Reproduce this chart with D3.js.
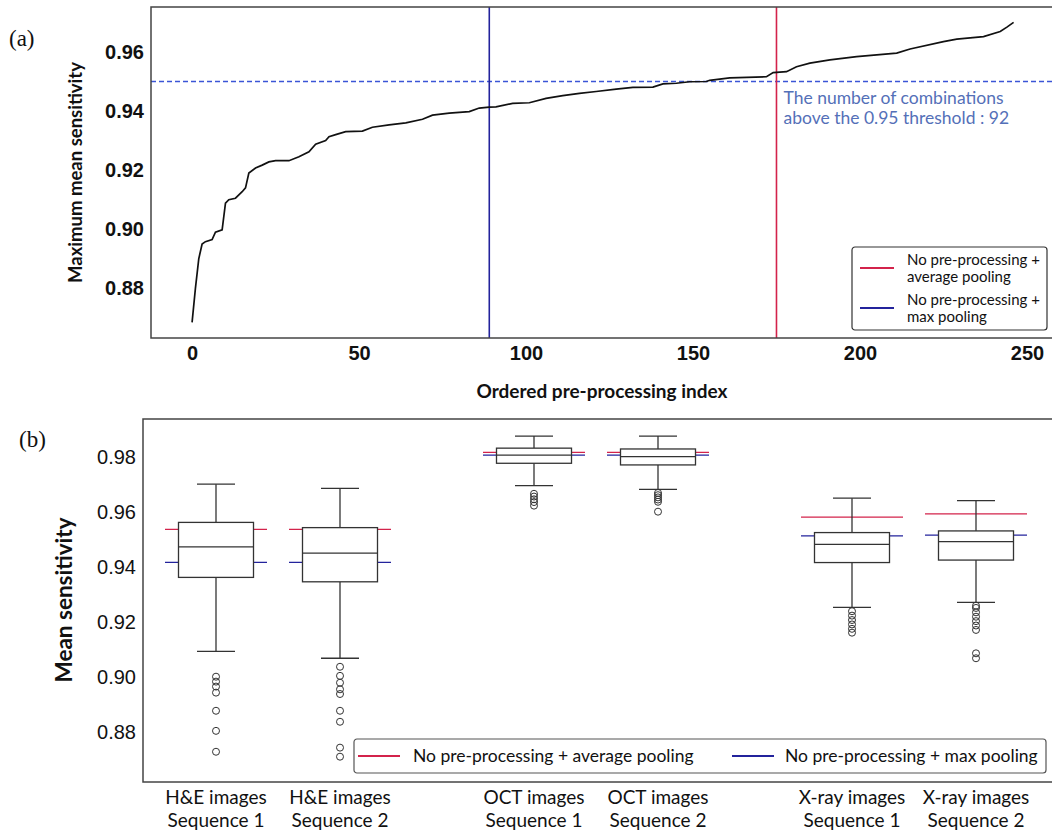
<!DOCTYPE html>
<html>
<head>
<meta charset="utf-8">
<script src="https://cdn.jsdelivr.net/npm/d3@7"></script>
<style>
  body { margin: 0; background: #fff; }
  svg { display: block; font-family: Lato, "Open Sans", sans-serif; }
</style>
</head>
<body>
<svg id="chart" width="1052" height="835"></svg>
<script>

// ---- Panel (a): ordered pre-processing combinations ----
const curveIndex = [0, 1, 2, 3, 4, 6, 7, 9, 10, 11, 13, 15, 16, 17, 19, 21, 23, 25, 29, 32,
    35, 37, 40, 41, 43, 46, 51, 54, 59, 64, 69, 72, 77, 83, 86, 89, 91, 96, 101, 106,
    111, 116, 121, 127, 132, 138, 141, 145, 149, 154, 155, 161, 172, 174, 178, 181, 185, 191, 199, 211,
    215, 225, 229, 237, 242, 244, 246];
const curveValue = [0.8685, 0.8800, 0.8900, 0.8950, 0.8958, 0.8965, 0.8990, 0.8998, 0.9088, 0.9100,
    0.9105, 0.9127, 0.9140, 0.9190, 0.9207, 0.9217, 0.9228, 0.9232, 0.9232, 0.9245,
    0.9262, 0.9288, 0.9300, 0.9313, 0.9320, 0.9330, 0.9332, 0.9345, 0.9353, 0.9360,
    0.9372, 0.9386, 0.9393, 0.9398, 0.9410, 0.9413, 0.9414, 0.9426, 0.9428, 0.9443,
    0.9452, 0.9460, 0.9466, 0.9474, 0.9480, 0.9481, 0.9492, 0.9494, 0.9499, 0.9500,
    0.9504, 0.9512, 0.9516, 0.9530, 0.9533, 0.9550, 0.9562, 0.9573, 0.9584, 0.9596,
    0.9610, 0.9635, 0.9643, 0.9652, 0.9669, 0.9684, 0.9700];
const avgPoolIndex = 175;
const maxPoolIndex = 89;
const threshold = 0.95;
const aboveThreshold = 92;
const topXTicks = [0, 50, 100, 150, 200, 250];
const topYTicks = [0.88, 0.90, 0.92, 0.94, 0.96];

// ---- Panel (b): mean sensitivity per modality / sequence ----
const groups = ["H&E images", "OCT images", "X-ray images"];
const sequences = ["Sequence 1", "Sequence 2"];
const whiskerHigh = [0.9700, 0.9685, 0.9875, 0.9875, 0.9649, 0.9640];
const q3 =          [0.9561, 0.9542, 0.9831, 0.9828, 0.9524, 0.9530];
const median =      [0.9472, 0.9449, 0.9806, 0.9800, 0.9481, 0.9491];
const q1 =          [0.9361, 0.9345, 0.9776, 0.9770, 0.9415, 0.9424];
const whiskerLow =  [0.9092, 0.9067, 0.9695, 0.9681, 0.9252, 0.9270];
const outliers = [
    [0.9000, 0.8982, 0.8964, 0.8942, 0.8876, 0.8803, 0.8727],
    [0.9036, 0.9003, 0.8978, 0.8954, 0.8937, 0.8876, 0.8836, 0.8742, 0.8709],
    [0.9665, 0.9655, 0.9645, 0.9635, 0.9622],
    [0.9668, 0.9660, 0.9652, 0.9644, 0.9636, 0.9600],
    [0.9238, 0.9222, 0.9206, 0.9190, 0.9174, 0.9160],
    [0.9258, 0.9250, 0.9234, 0.9218, 0.9202, 0.9186, 0.9170, 0.9085, 0.9067]
];
const avgPoolValue = [0.9536, 0.9536, 0.9816, 0.9816, 0.9580, 0.9592];
const maxPoolValue = [0.9416, 0.9416, 0.9806, 0.9806, 0.9512, 0.9515];
const bottomYTicks = [0.88, 0.90, 0.92, 0.94, 0.96, 0.98];

const legendLabels = ["No pre-processing + average pooling", "No pre-processing + max pooling"];

const RED = "#d3234b", BLUE = "#23239c", INK = "#333";

const svg = d3.select("#chart");
svg.append("rect").attr("width", 1052).attr("height", 835).attr("fill", "#fff");

// ================= Panel (a) =================
const A = {left: 151, right: 1058, top: 7, bottom: 338};
const xA = d3.scaleLinear().domain([-12.3, 259.3]).range([A.left, A.right]);
const yA = d3.scaleLinear().domain([0.8632, 0.9752]).range([A.bottom, A.top]);

const panelA = svg.append("g");

// threshold and reference lines
panelA.append("line")
    .attr("x1", A.left).attr("x2", A.right)
    .attr("y1", yA(threshold)).attr("y2", yA(threshold))
    .attr("stroke", "#3b55d6").attr("stroke-width", 1.3)
    .attr("stroke-dasharray", "5,3");
panelA.append("line")
    .attr("x1", xA(maxPoolIndex)).attr("x2", xA(maxPoolIndex))
    .attr("y1", A.top).attr("y2", A.bottom)
    .attr("stroke", BLUE).attr("stroke-width", 1.6);
panelA.append("line")
    .attr("x1", xA(avgPoolIndex)).attr("x2", xA(avgPoolIndex))
    .attr("y1", A.top).attr("y2", A.bottom)
    .attr("stroke", RED).attr("stroke-width", 1.6);

// sorted curve
panelA.append("path")
    .datum(d3.zip(curveIndex, curveValue))
    .attr("fill", "none")
    .attr("stroke", "#111")
    .attr("stroke-width", 1.7)
    .attr("d", d3.line().x(d => xA(d[0])).y(d => yA(d[1])));

// frame
panelA.append("rect")
    .attr("x", A.left).attr("y", A.top)
    .attr("width", A.right - A.left).attr("height", A.bottom - A.top)
    .attr("fill", "none").attr("stroke", "#444").attr("stroke-width", 1.5);

// axes
panelA.append("g")
    .attr("transform", `translate(0, ${A.bottom})`)
    .call(d3.axisBottom(xA).tickValues(topXTicks).tickSize(0).tickPadding(8))
    .call(g => g.select(".domain").remove())
    .selectAll("text")
    .style("font-size", "20px").style("font-weight", "bold").attr("fill", "#111");
panelA.append("g")
    .attr("transform", `translate(${A.left}, 0)`)
    .call(d3.axisLeft(yA).tickValues(topYTicks).tickFormat(d3.format(".2f")).tickSize(0).tickPadding(7))
    .call(g => g.select(".domain").remove())
    .selectAll("text")
    .style("font-size", "20px").style("font-weight", "bold").attr("fill", "#111");

panelA.append("text")
    .attr("transform", `translate(82, ${(A.top + A.bottom) / 2}) rotate(-90)`)
    .attr("text-anchor", "middle")
    .style("font-size", "18.5px").style("font-weight", "bold").attr("fill", "#111")
    .text("Maximum mean sensitivity");
panelA.append("text")
    .attr("x", 602).attr("y", 398)
    .attr("text-anchor", "middle")
    .style("font-size", "19px").style("font-weight", "bold").attr("fill", "#111")
    .text("Ordered pre-processing index");

// annotation
const note = panelA.append("text")
    .attr("x", xA(avgPoolIndex) + 7).attr("y", yA(threshold) + 23)
    .style("font-size", "17.5px").attr("fill", "#5470b8");
note.append("tspan").text("The number of combinations");
note.append("tspan").attr("x", xA(avgPoolIndex) + 7).attr("dy", 20)
    .text(`above the ${threshold} threshold : ${aboveThreshold}`);

// legend (a)
const legA = panelA.append("g").attr("transform", "translate(852, 247)");
legA.append("rect").attr("width", 195).attr("height", 83).attr("rx", 3)
    .attr("fill", "#fff").attr("stroke", INK).attr("stroke-width", 1.2);
[[RED, ["No pre-processing +", "average pooling"]], [BLUE, ["No pre-processing +", "max pooling"]]]
    .forEach(([c, lines], i) => {
        const yy = 21 + i * 40;
        legA.append("line").attr("x1", 8).attr("x2", 42).attr("y1", yy).attr("y2", yy)
            .attr("stroke", c).attr("stroke-width", 2);
        lines.forEach((t, j) => legA.append("text")
            .attr("x", 55).attr("y", yy - 3 + j * 17)
            .style("font-size", "15px").attr("fill", "#111").text(t));
    });

svg.append("text").attr("x", 9).attr("y", 46)
    .style("font-family", "'Liberation Serif', 'DejaVu Serif', serif")
    .style("font-size", "23px").attr("fill", "#111").text("(a)");

// ================= Panel (b) =================
const B = {left: 143, right: 1060, top: 419, bottom: 782};
const yB = d3.scaleLinear().domain([0.8617, 0.9937]).range([B.bottom, B.top]);
const groupX = d3.scalePoint().domain(groups).range([278, 914]);
const seqOffset = d3.scalePoint().domain(sequences).range([-62, 62]);

const boxes = [];
groups.forEach(g => sequences.forEach(s => boxes.push({group: g, seq: s})));
boxes.forEach((b, i) => {
    b.x = groupX(b.group) + seqOffset(b.seq);
    b.hi = whiskerHigh[i]; b.q3 = q3[i]; b.med = median[i]; b.q1 = q1[i]; b.lo = whiskerLow[i];
    b.out = outliers[i]; b.avg = avgPoolValue[i]; b.max = maxPoolValue[i];
});

const panelB = svg.append("g");
const boxW = 75, capW = 38, refW = 102;

// no pre-processing reference lines (behind boxes)
boxes.forEach(b => {
    panelB.append("line")
        .attr("x1", b.x - refW / 2).attr("x2", b.x + refW / 2)
        .attr("y1", yB(b.max)).attr("y2", yB(b.max))
        .attr("stroke", BLUE).attr("stroke-width", 1.2);
    panelB.append("line")
        .attr("x1", b.x - refW / 2).attr("x2", b.x + refW / 2)
        .attr("y1", yB(b.avg)).attr("y2", yB(b.avg))
        .attr("stroke", RED).attr("stroke-width", 1.2);
});

// boxes
const bx = panelB.selectAll(".box").data(boxes).enter().append("g").attr("class", "box");
bx.append("line").attr("x1", d => d.x).attr("x2", d => d.x)
    .attr("y1", d => yB(d.hi)).attr("y2", d => yB(d.q3))
    .attr("stroke", INK).attr("stroke-width", 1.3);
bx.append("line").attr("x1", d => d.x).attr("x2", d => d.x)
    .attr("y1", d => yB(d.q1)).attr("y2", d => yB(d.lo))
    .attr("stroke", INK).attr("stroke-width", 1.3);
bx.append("line").attr("x1", d => d.x - capW / 2).attr("x2", d => d.x + capW / 2)
    .attr("y1", d => yB(d.hi)).attr("y2", d => yB(d.hi))
    .attr("stroke", INK).attr("stroke-width", 1.3);
bx.append("line").attr("x1", d => d.x - capW / 2).attr("x2", d => d.x + capW / 2)
    .attr("y1", d => yB(d.lo)).attr("y2", d => yB(d.lo))
    .attr("stroke", INK).attr("stroke-width", 1.3);
bx.append("rect")
    .attr("x", d => d.x - boxW / 2).attr("width", boxW)
    .attr("y", d => yB(d.q3)).attr("height", d => yB(d.q1) - yB(d.q3))
    .attr("fill", "#fff").attr("stroke", INK).attr("stroke-width", 1.3);
bx.append("line").attr("x1", d => d.x - boxW / 2).attr("x2", d => d.x + boxW / 2)
    .attr("y1", d => yB(d.med)).attr("y2", d => yB(d.med))
    .attr("stroke", INK).attr("stroke-width", 1.3);
bx.selectAll("circle").data(d => d.out.map(v => ({x: d.x, v}))).enter().append("circle")
    .attr("cx", d => d.x).attr("cy", d => yB(d.v)).attr("r", 3.5)
    .attr("fill", "none").attr("stroke", INK).attr("stroke-width", 1);

// legend (b)
const legB = panelB.append("g").attr("transform", "translate(354, 739)");
legB.append("rect").attr("width", 692).attr("height", 34).attr("rx", 3)
    .attr("fill", "#fff").attr("stroke", "#555").attr("stroke-width", 1.2);
[[RED, 4, 59], [BLUE, 378, 431]].forEach(([c, lx, tx], i) => {
    legB.append("line").attr("x1", lx).attr("x2", lx + 42).attr("y1", 17).attr("y2", 17)
        .attr("stroke", c).attr("stroke-width", 2);
    legB.append("text").attr("x", tx).attr("y", 23)
        .style("font-size", "17.5px").attr("fill", "#111").text(legendLabels[i]);
});

// frame
panelB.append("rect")
    .attr("x", B.left).attr("y", B.top)
    .attr("width", B.right - B.left).attr("height", B.bottom - B.top)
    .attr("fill", "none").attr("stroke", "#444").attr("stroke-width", 1.5);

// y axis
panelB.append("g")
    .attr("transform", `translate(${B.left}, 0)`)
    .call(d3.axisLeft(yB).tickValues(bottomYTicks).tickFormat(d3.format(".2f")).tickSize(0).tickPadding(7))
    .call(g => g.select(".domain").remove())
    .selectAll("text")
    .style("font-size", "20px").attr("fill", "#111");

// category labels
const cat = panelB.selectAll(".cat").data(boxes).enter().append("text")
    .attr("text-anchor", "middle").style("font-size", "19px").attr("fill", "#111");
cat.append("tspan").attr("x", d => d.x).attr("y", 804).text(d => d.group);
cat.append("tspan").attr("x", d => d.x).attr("y", 827).text(d => d.seq);

panelB.append("text")
    .attr("transform", `translate(72, 600) rotate(-90)`)
    .attr("text-anchor", "middle")
    .style("font-size", "22.5px").style("font-weight", "bold").attr("fill", "#111")
    .text("Mean sensitivity");

svg.append("text").attr("x", 19).attr("y", 447)
    .style("font-family", "'Liberation Serif', 'DejaVu Serif', serif")
    .style("font-size", "23px").attr("fill", "#111").text("(b)");

</script>
</body>
</html>
